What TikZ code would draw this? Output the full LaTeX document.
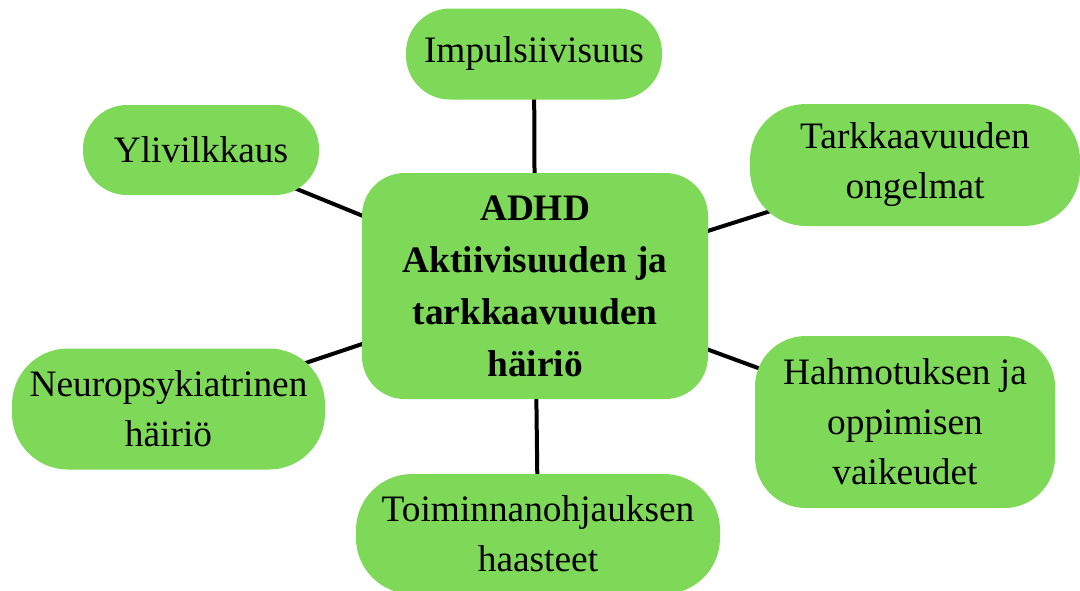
\documentclass[tikz,border=0pt]{standalone}
\usepackage{fontspec}
\setmainfont{Liberation Serif}
\usepackage{xcolor}
\definecolor{adhdgreen}{RGB}{126, 217, 88}
\usepackage{tikz}
\usetikzlibrary{backgrounds}

\begin{document}
\begin{tikzpicture}[x=0.75pt, y=-0.75pt,
  box/.style={fill=adhdgreen, rounded corners=33pt, align=center, inner sep=0pt, font=\fontsize{28}{37.5}\selectfont},
  link/.style={line width=3pt, black}]

\useasboundingbox (0,0) rectangle (1080,590);

% keskus
\node[box, rounded corners=32pt, minimum width=346*0.75pt, minimum height=226*0.75pt, font=\fontsize{28}{39}\selectfont\bfseries] (adhd) at (535,286) {ADHD\\ Aktiivisuuden ja\\ tarkkaavuuden\\ häiriö};

% oksat
\node[box, minimum width=256*0.75pt, minimum height=91*0.75pt] (impuls) at (534,54) {Impulsiivisuus};
\node[box, minimum width=236*0.75pt, minimum height=90*0.75pt] (ylivilk) at (201,150) {Ylivilkkaus};
\node[box, rounded corners=42pt, minimum width=330*0.75pt, minimum height=122*0.75pt] (tarkka) at (915,165) {Tarkkaavuuden\\ ongelmat};
\node[box, rounded corners=42pt, minimum width=313*0.75pt, minimum height=121*0.75pt] (neuro) at (168.5,409) {Neuropsykiatrinen\\ häiriö};
\node[box, rounded corners=38pt, minimum width=300*0.75pt, minimum height=172*0.75pt] (hahmo) at (905,422) {Hahmotuksen ja\\ oppimisen\\ vaikeudet};
\node[box, rounded corners=42pt, minimum width=364*0.75pt, minimum height=120*0.75pt] (toimi) at (538,534) {Toiminnanohjauksen\\ haasteet};

% viivat
\begin{scope}[on background layer]
\draw[link] (adhd.center) -- (impuls.center);
\draw[link] (adhd.center) -- (ylivilk.center);
\draw[link] (adhd.center) -- (tarkka.center);
\draw[link] (adhd.center) -- (neuro.center);
\draw[link] (adhd.center) -- (hahmo.center);
\draw[link] (adhd.center) -- (toimi.center);
\end{scope}
\end{tikzpicture}
\end{document}
